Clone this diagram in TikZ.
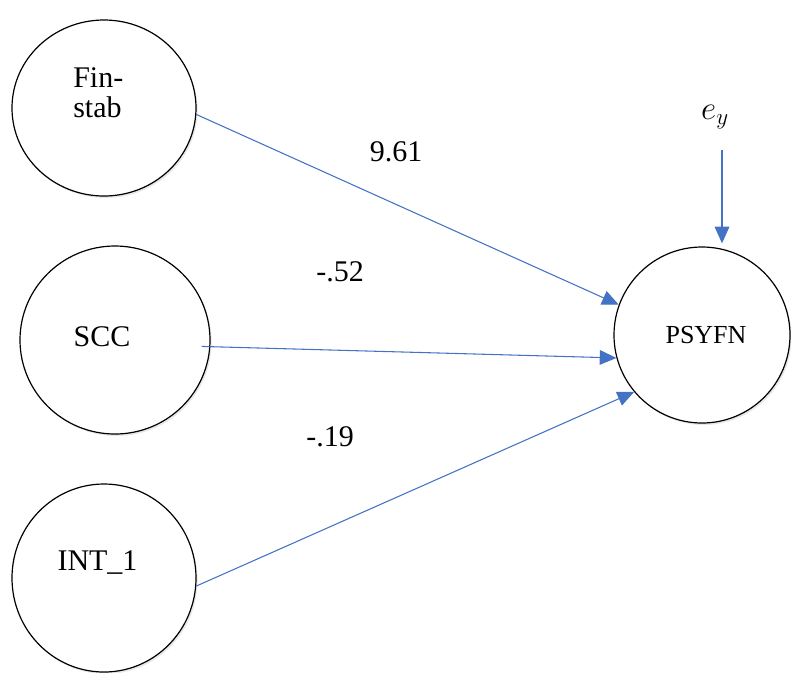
\documentclass[tikz,border=0pt]{standalone}
\usepackage{fontspec}
\setmainfont{Liberation Serif}
\usetikzlibrary{shapes.geometric,arrows.meta,shadows}
\definecolor{arrowblue}{RGB}{68,114,196}
\begin{document}
\begin{tikzpicture}[x=0.75pt,y=-0.75pt,
  latent/.style={ellipse, draw=black, line width=0.9pt, fill=white, inner sep=0pt,
    drop shadow={shadow xshift=1.2pt, shadow yshift=-1.5pt, opacity=0.18}},
  lbl/.style={inner sep=0pt, font=\fontsize{22.5}{22.5}\selectfont},
  conn/.style={draw=arrowblue, line width=0.8pt, -{Triangle[length=12.5pt,width=11pt]}}
]
\useasboundingbox (0,0) rectangle (791,672);

% latent variables
\node[latent, minimum width=138pt, minimum height=132pt] (fin) at (104,108) {};
\node[latent, minimum width=142.5pt, minimum height=141pt] (scc) at (115,340) {};
\node[latent, minimum width=138pt, minimum height=141pt] (int) at (104,578) {};
\node[latent, minimum width=132pt, minimum height=132pt] (psy) at (702,335) {};

% texts
\node[lbl, align=left, anchor=west] (fintxt) at (73,93) {Fin-\\stab};
\node[lbl, anchor=base] (scctxt) at (102,346) {SCC};
\node[lbl, anchor=base] (inttxt) at (97.5,570) {INT\_1};
\node[inner sep=0pt, font=\fontsize{19.5}{19.5}\selectfont, anchor=base] (psytxt) at (706,343) {PSYFN};
\node[inner sep=0pt, font=\fontsize{26}{26}\selectfont] (ey) at (715,117) {$e_y$};

% coefficients
\node[lbl, anchor=base] (c1) at (396,161) {9.61};
\node[lbl, anchor=base] (c2) at (340,281) {-.52};
\node[lbl, anchor=base] (c3) at (330,446) {-.19};

% paths
\draw[conn] (fin.-4) -- (psy.160);
\draw[conn, shorten <=-6.5pt] (scc.-4.6) -- (psy.195);
\draw[conn] (int.-5) -- (psy.220.6);
\coordinate (eystart) at (722,150);
\draw[conn, shorten >=4pt] (eystart) -- (eystart |- psy.77);
\end{tikzpicture}
\end{document}
